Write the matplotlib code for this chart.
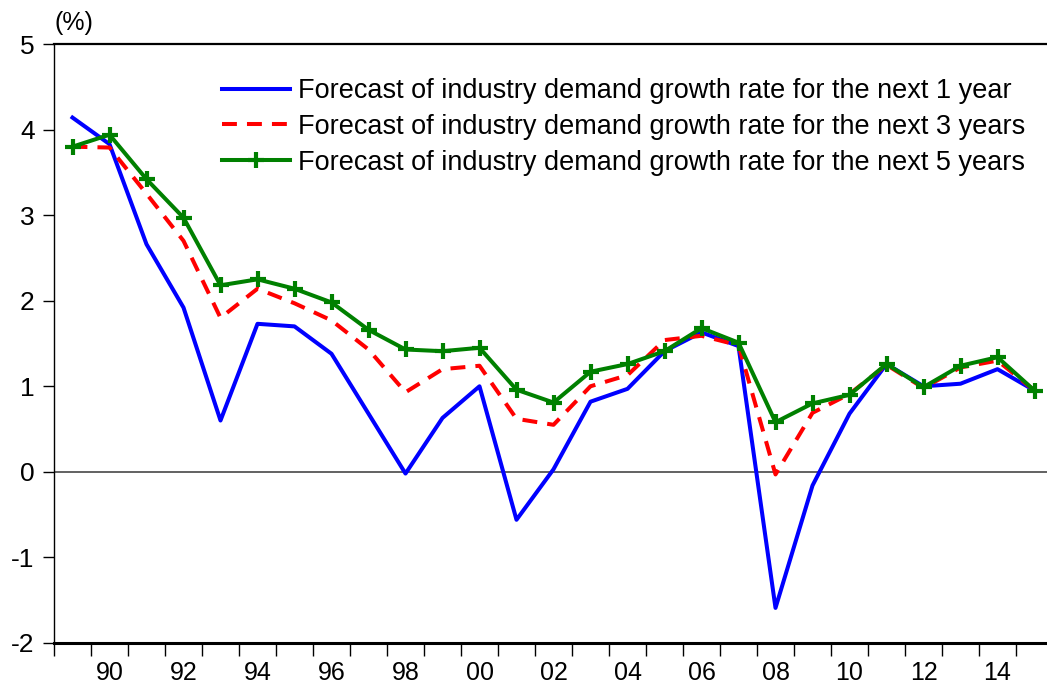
import matplotlib
matplotlib.use('Agg')
import matplotlib.pyplot as plt
from matplotlib.ticker import FixedLocator

plt.rcParams['font.family'] = ['Liberation Sans', 'DejaVu Sans']

# Data
years = list(range(1989, 2016))
growth_1y = [4.14, 3.83, 2.66, 1.92, 0.60, 1.73, 1.70, 1.38, 0.68, -0.02,
             0.63, 1.00, -0.56, 0.03, 0.82, 0.97, 1.41, 1.63, 1.47, -1.59,
             -0.16, 0.68, 1.26, 1.00, 1.03, 1.20, 0.95]
growth_3y = [3.80, 3.79, 3.25, 2.70, 1.80, 2.14, 1.97, 1.77, 1.43, 0.93,
             1.20, 1.24, 0.62, 0.55, 1.00, 1.13, 1.54, 1.59, 1.48, -0.03,
             0.69, 0.91, 1.25, 0.98, 1.22, 1.30, 0.95]
growth_5y = [3.80, 3.94, 3.42, 2.97, 2.18, 2.25, 2.14, 1.98, 1.66, 1.43,
             1.41, 1.45, 0.96, 0.81, 1.17, 1.26, 1.41, 1.68, 1.51, 0.58,
             0.80, 0.90, 1.26, 0.99, 1.24, 1.34, 0.95]
labels = ['Forecast of industry demand growth rate for the next 1 year',
          'Forecast of industry demand growth rate for the next 3 years',
          'Forecast of industry demand growth rate for the next 5 years']
label_years = list(range(1990, 2016, 2))
year_labels = ['%02d' % (y % 100) for y in label_years]
y_ticks = list(range(-2, 6))

fig = plt.figure(figsize=(10.47, 6.95), dpi=100)
ax = fig.add_axes([54 / 1047, 52 / 695, 999 / 1047, 599 / 695])

ax.axhline(0, color='#555555', linewidth=1.3, zorder=1)

ax.plot(years, growth_1y, color='blue', linewidth=2.9, label=labels[0], zorder=2)
ax.plot(years, growth_3y, color='red', linewidth=2.9, linestyle=(0, (3.7, 2.5)),
        label=labels[1], zorder=3)
ax.plot(years, growth_5y, color='green', linewidth=2.9, marker='+', markersize=12,
        markeredgewidth=3, label=labels[2], zorder=4)

ax.set_xlim(1988.5, 2015.5)
ax.set_ylim(-2, 5)

# even-year labels with no tick, year boundaries get the tick marks
ax.set_xticks(label_years)
ax.set_xticklabels(year_labels, fontsize=18)
ax.xaxis.set_minor_locator(FixedLocator([y - 0.5 for y in years] + [2015.5]))
ax.tick_params(axis='x', which='major', length=0, pad=13)
ax.tick_params(axis='x', which='minor', length=9, width=1, direction='out')

ax.set_yticks(y_ticks)
ax.set_yticklabels([str(v) for v in y_ticks], fontsize=19)
ax.tick_params(axis='y', length=8, width=1, direction='out', pad=6)

ax.spines['right'].set_visible(False)
ax.spines['top'].set_linewidth(1.6)
ax.spines['left'].set_linewidth(1.0)
ax.spines['bottom'].set_linewidth(2.2)

fig.text(55 / 1047, 1 - 23 / 695, '(%)', fontsize=18, va='center', ha='left')

ax.legend(loc='upper left', bbox_to_anchor=(222 / 1047, 1 - 78 / 695),
          bbox_transform=fig.transFigure, frameon=False, fontsize=19.5,
          handlelength=2.5, handletextpad=0.3, labelspacing=0.36,
          borderpad=0, borderaxespad=0)

fig.savefig('out.png', dpi=100)
